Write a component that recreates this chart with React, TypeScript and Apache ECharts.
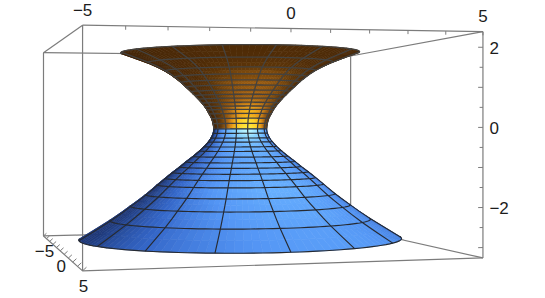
import React, { useEffect, useRef } from "react";
import * as echarts from "echarts";

// Surface profile, top rim to bottom rim
const ringZ = [2.12, 1.85, 1.62, 1.45, 1.3, 1.17, 1.04, 0.93, 0.83, 0.72, 0.62, 0.53, 0.42, 0.29, 0.15, 0.0, -0.12, -0.25, -0.36, -0.49, -0.61, -0.76, -0.91, -1.05, -1.2, -1.36, -1.54, -1.81, -2.12, -2.51, -3.03];
const ringR = [3.32, 2.58, 2.1, 1.85, 1.66, 1.52, 1.38, 1.27, 1.17, 1.07, 0.99, 0.93, 0.87, 0.8, 0.76, 0.74, 0.76, 0.82, 0.9, 1.02, 1.15, 1.33, 1.53, 1.7, 1.9, 2.1, 2.32, 2.64, 3.06, 3.62, 4.47];
const meridianCount = 15;
const meridianPhaseDeg = -8;

// Axes
const xyMin = -5;
const xyMax = 5;
const zTop = 2.39;
const zBottom = -3.26;
const xTicks = [-5, -4, -3, -2, -1, 0, 1, 2, 3, 4, 5];
const yTicks = [-5, -4, -3, -2, -1, 0, 1, 2, 3, 4, 5];
const zTicks = [-3, -2.5, -2, -1.5, -1, -0.5, 0, 0.5, 1, 1.5, 2];
const xLabels = [-5, 0, 5];
const yLabels = [-5, 0, 5];
const zLabels = [-2, 0, 2];

// Colour ramps (intensity, colour)
const blueRamp: [number, number[]][] = [[0, [30, 56, 120]], [0.3, [52, 102, 200]], [0.55, [84, 150, 245]], [0.75, [105, 178, 255]], [0.92, [140, 215, 255]], [1, [185, 245, 255]]];
const orangeRamp: [number, number[]][] = [[0, [66, 36, 6]], [0.35, [80, 44, 7]], [0.5, [95, 55, 9]], [0.7, [155, 92, 16]], [0.82, [225, 145, 20]], [0.92, [255, 200, 30]], [1, [255, 232, 60]]];

// Camera: projective matrix of the box
const W = [0.0279, 0.000197, -0.000783];
const PX = [6.7, 1.016, 0.0558];
const PY = [3.598, 0.0212, -0.1046];
function project(x: number, y: number, z: number): [number, number] {
  const w = W[0] + W[1] * x + W[2] * y;
  return [(PX[0] + PX[1] * x + PX[2] * y) / w, (PY[0] + PY[1] * x + PY[2] * y - z) / w];
}

function cr(a: number[], t: number) {
  const n = a.length - 1;
  const i = Math.max(0, Math.min(n - 1, Math.floor(t)));
  const f = t - i;
  const p1 = a[i], p2 = a[i + 1];
  const p0 = i > 0 ? a[i - 1] : 2 * p1 - p2;
  const p3 = i < n - 1 ? a[i + 2] : 2 * p2 - p1;
  return 0.5 * (2 * p1 + (p2 - p0) * f + (2 * p0 - 5 * p1 + 4 * p2 - p3) * f * f + (3 * p1 - p0 - 3 * p2 + p3) * f * f * f);
}
function surf(t: number, phi: number): [number, number, number] {
  const r = cr(ringR, t);
  return [r * Math.cos(phi), r * Math.sin(phi), cr(ringZ, t)];
}
function sp(t: number, phi: number) {
  const p = surf(t, phi);
  return project(p[0], p[1], p[2]);
}
function area(pts: [number, number][]) {
  let s = 0;
  for (let i = 0; i < pts.length; i++) {
    const a = pts[i], b = pts[(i + 1) % pts.length];
    s += a[0] * b[1] - b[0] * a[1];
  }
  return s;
}
const DEG = Math.PI / 180;
const refSign = Math.sign(area([sp(15, 1.8), sp(15, 1.85), sp(15.1, 1.85), sp(15.1, 1.8)]));
function facing(t: number, phi: number) {
  const d = 0.02, e = 0.01;
  return area([sp(t, phi), sp(t, phi + d), sp(t + e, phi + d), sp(t + e, phi)]) * refSign > 0;
}
function ramp(r: [number, number[]][], v: number) {
  const c = Math.max(0, Math.min(1, v));
  for (let i = 1; i < r.length; i++) {
    if (c <= r[i][0]) {
      const f = (c - r[i - 1][0]) / (r[i][0] - r[i - 1][0]);
      const a = r[i - 1][1], b = r[i][1];
      return `rgb(${a.map((x, k) => Math.round(x + (b[k] - x) * f)).join(",")})`;
    }
  }
  return "#fff";
}
function shade(t: number, phi: number) {
  const e = 0.05;
  const t0 = Math.max(0, t - e), t1 = Math.min(ringZ.length - 1, t + e);
  const slope = (cr(ringR, t1) - cr(ringR, t0)) / (cr(ringZ, t1) - cr(ringZ, t0));
  const z = cr(ringZ, t);
  const len = Math.sqrt(1 + slope * slope);
  const az = (89 - (z < 0 ? 6 * -z : 0)) * DEG;
  const radial = Math.cos(phi - az) / len;
  const I = radial + (z < 0 ? 0.1 * (-slope / len) : 0);
  return z > 0 ? ramp(orangeRamp, I) : ramp(blueRamp, I);
}

const zeroRing = ringZ.indexOf(0.0);
const ringSub = 2;
const phiSub = 8;
const phiStep = (2 * Math.PI) / meridianCount / phiSub;
const phi0 = meridianPhaseDeg * DEG;
const phiCells = meridianCount * phiSub;
const tCells = (ringZ.length - 1) * ringSub;

const quadData: number[][] = [];
for (let i = 0; i < tCells; i++) {
  for (let j = 0; j < phiCells; j++) {
    const t = (i + 0.5) / ringSub;
    const phi = phi0 + (j + 0.5) * phiStep;
    if (facing(t, phi)) quadData.push([i, j]);
  }
}
// Mesh lines: [kind, index, from, to]
const meshData: number[][] = [];
ringZ.forEach((_, ri) => {
  const t = Math.min(ri, ringZ.length - 1.02);
  let start = -1000;
  for (let j = 0; j <= phiCells; j++) {
    const vis = j < phiCells && facing(t, phi0 + (j + 0.5) * phiStep);
    if (vis && start === -1000) start = j;
    if (!vis && start !== -1000) {
      meshData.push([0, ri, start, j]);
      start = -1000;
    }
  }
});
for (let m = 0; m < meridianCount; m++) {
  const phi = phi0 + m * phiSub * phiStep;
  let start = -1;
  const mid = zeroRing * ringSub;
  for (let i = 0; i <= tCells; i++) {
    const vis = i < tCells && facing((i + 0.5) / ringSub, phi);
    if (vis && start === -1) start = i;
    if (!vis && start !== -1) {
      if (start < mid && i > mid) {
        meshData.push([1, m, start, mid]);
        meshData.push([1, m, mid, i]);
      } else meshData.push([1, m, start, i]);
      start = -1;
    }
  }
}

// Box edges [x,y,z, x,y,z]
const edgeData: number[][] = [];
const corners: [number, number][] = [[xyMin, xyMax], [xyMax, xyMax], [xyMax, xyMin], [xyMin, xyMin]];
corners.forEach((c, i) => {
  const n = corners[(i + 1) % 4];
  edgeData.push([c[0], c[1], zTop, n[0], n[1], zTop]);
  edgeData.push([c[0], c[1], zBottom, n[0], n[1], zBottom]);
  edgeData.push([c[0], c[1], zTop, c[0], c[1], zBottom]);
});
const tickData: number[][] = [];
xTicks.forEach((x) => tickData.push([x, xyMax, zTop, x, xyMax, zTop - 0.09]));
yTicks.forEach((y) => tickData.push([xyMin, y, zBottom, xyMin + 0.09, y, zBottom + 0.08]));
zTicks.forEach((z) => tickData.push([xyMax, xyMax, z, xyMax - (Number.isInteger(z) ? 0.13 : 0.09), xyMax, z]));

const fmt = (v: number) => (v < 0 ? "\u2212" + -v : String(v));
// [x,y,z, value, kind]
const labelData: number[][] = [
  ...xLabels.map((v) => [v, xyMax, zTop, v, 0]),
  ...yLabels.map((v) => [xyMin, v, zBottom, v, 1]),
  ...zLabels.map((v) => [xyMax, xyMax, v, v, 2]),
];

export default function App() {
  const ref = useRef<HTMLDivElement>(null);
  useEffect(() => {
    const chart = echarts.init(ref.current!, undefined, { renderer: "svg" });
    const lineSeries = (data: number[][], width: number) => ({
      type: "custom",
      coordinateSystem: "cartesian2d",
      silent: true,
      clip: false,
      data,
      renderItem: (_: any, api: any) => {
        const a = project(api.value(0), api.value(1), api.value(2));
        const b = project(api.value(3), api.value(4), api.value(5));
        const p = api.coord(a), q = api.coord(b);
        return { type: "line", shape: { x1: p[0], y1: p[1], x2: q[0], y2: q[1] }, style: { stroke: "#7c7c7c", lineWidth: width, fill: "none" } };
      },
    });
    chart.setOption({
      animation: false,
      backgroundColor: "#fff",
      grid: { left: 0, right: 0, top: 0, bottom: 0 },
      xAxis: { type: "value", min: 0, max: 545, show: false },
      yAxis: { type: "value", min: 0, max: 298, inverse: true, show: false },
      series: [
        lineSeries(edgeData, 1.2),
        lineSeries(tickData, 1),
        {
          type: "custom",
          coordinateSystem: "cartesian2d",
          silent: true,
          clip: false,
          data: quadData,
          renderItem: (_: any, api: any) => {
            const i = api.value(0), j = api.value(1);
            const t0 = i / ringSub, t1 = (i + 1) / ringSub;
            const f0 = phi0 + j * phiStep, f1 = phi0 + (j + 1) * phiStep;
            const pts = [sp(t0, f0), sp(t0, f1), sp(t1, f1), sp(t1, f0)].map((p) => api.coord(p));
            const c = shade((t0 + t1) / 2, (f0 + f1) / 2);
            return { type: "polygon", shape: { points: pts }, style: { fill: c, stroke: c, lineWidth: 0.6 } };
          },
        },
        {
          type: "custom",
          coordinateSystem: "cartesian2d",
          silent: true,
          clip: false,
          data: meshData,
          renderItem: (_: any, api: any) => {
            const kind = api.value(0), idx = api.value(1), a = api.value(2), b = api.value(3);
            const pts: number[][] = [];
            let upper = false;
            if (kind === 0) {
              upper = ringZ[idx] > 0.02;
              for (let j = a; j <= b; j++) pts.push(api.coord(sp(idx, phi0 + j * phiStep)));
            } else {
              const phi = phi0 + idx * phiSub * phiStep;
              upper = a < zeroRing * ringSub;
              for (let i = a; i <= b; i++) pts.push(api.coord(sp(i / ringSub, phi)));
            }
            return { type: "polyline", shape: { points: pts }, style: { stroke: upper ? "#44423f" : "#262a32", lineWidth: upper ? 1.3 : 1.15, fill: "none" } };
          },
        },
        {
          type: "custom",
          coordinateSystem: "cartesian2d",
          silent: true,
          clip: false,
          data: labelData,
          renderItem: (_: any, api: any) => {
            const p = api.coord(project(api.value(0), api.value(1), api.value(2)));
            const kind = api.value(4);
            const dx = kind === 0 ? 0 : kind === 1 ? 1 : 6.5;
            const dy = kind === 0 ? -15 : kind === 1 ? 16 : 1;
            return {
              type: "text",
              x: p[0] + dx,
              y: p[1] + dy,
              style: {
                text: fmt(api.value(3)),
                fill: "#1c1c1c",
                font: '17px "Liberation Sans"',
                align: kind === 2 ? "left" : "center",
                verticalAlign: "middle",
              },
            };
          },
        },
      ],
    });
    return () => chart.dispose();
  }, []);
  return <div ref={ref} style={{ position: "fixed", left: 0, top: 0, width: 545, height: 298 }} />;
}
